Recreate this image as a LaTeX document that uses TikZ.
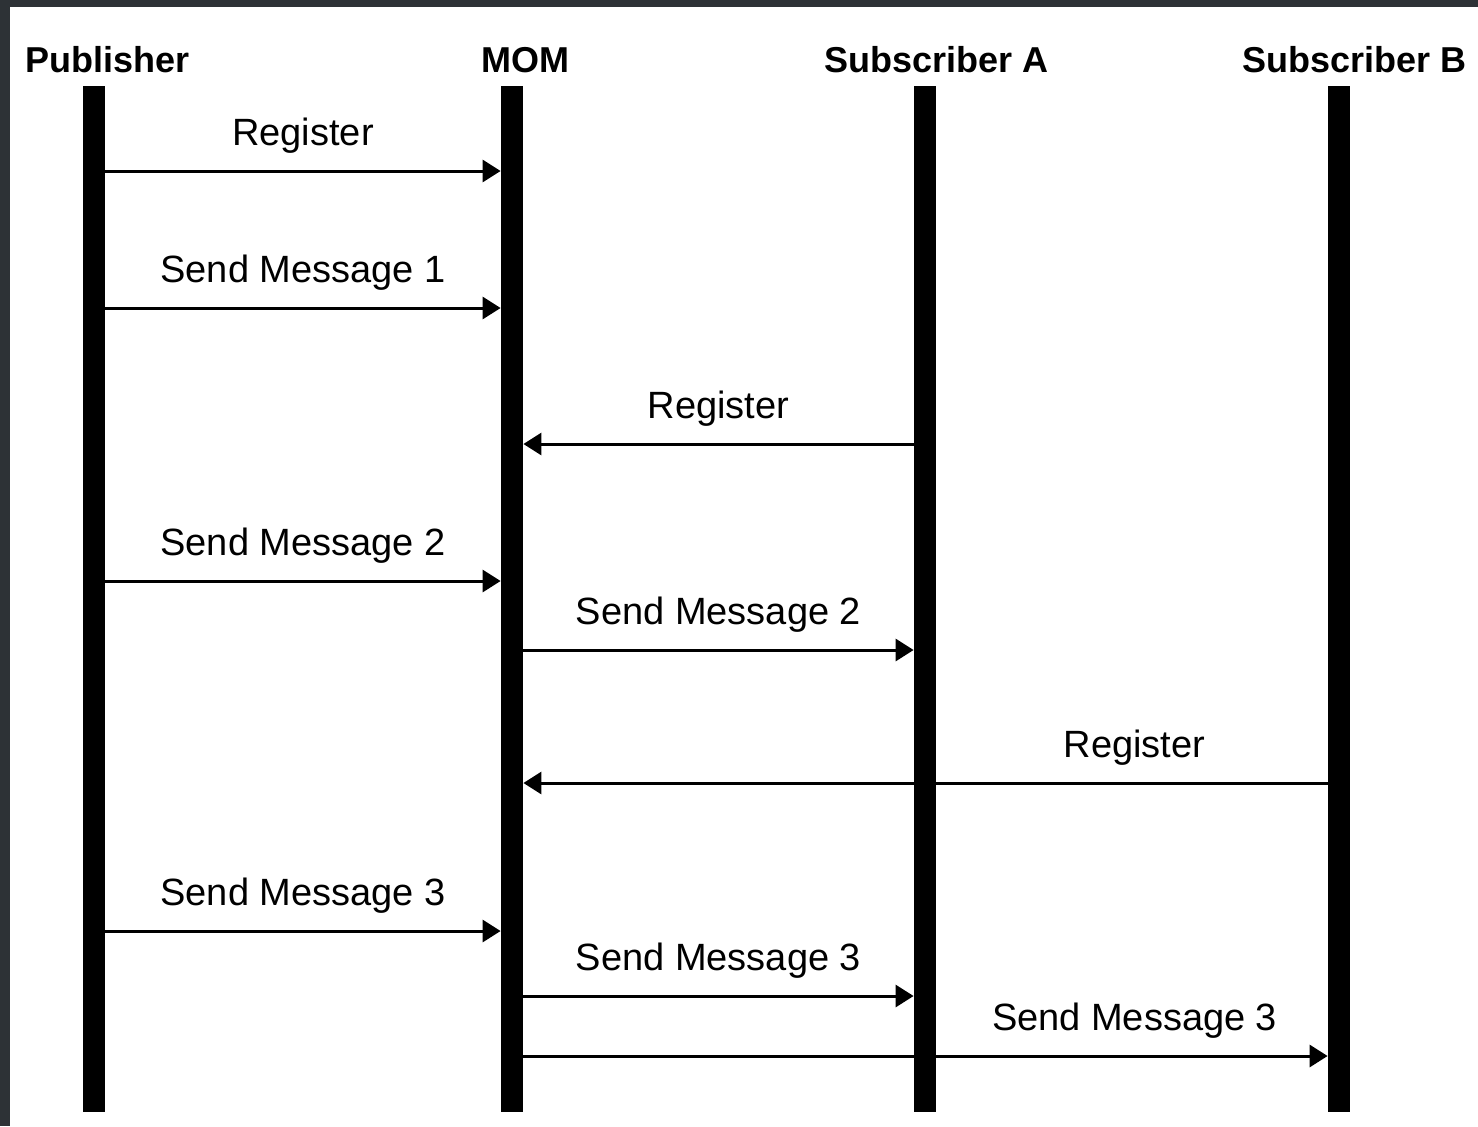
\documentclass[tikz,border=0pt]{standalone}
\usepackage{fontspec}
\setmainfont{Liberation Sans}
\usetikzlibrary{arrows.meta}
\definecolor{framegray}{HTML}{2D3236}

\begin{document}
\begin{tikzpicture}[x=0.5pt, y=-0.5pt,
    lifeline/.style={fill=black, inner sep=0pt, minimum width=11pt, minimum height=513pt},
    actor/.style={font=\fontsize{18}{20}\selectfont\bfseries, anchor=base west, inner sep=0pt},
    msg/.style={line width=1.5pt, -{Triangle[length=9pt,width=11pt]}},
    lbl/.style={font=\fontsize{19}{22}\selectfont, anchor=base, inner sep=0pt, yshift=13pt}
]
    % frame
    \fill[framegray] (0,0) rectangle (1478,1126);
    \fill[white] (10,7) rectangle (1478,1126);

    % actors
    \node[actor] (pubname) at (25,72) {Publisher};
    \node[actor] (momname) at (481,72) {MOM};
    \node[actor] (subaname) at (824,72) {Subscriber A};
    \node[actor] (subbname) at (1242,72) {Subscriber B};

    % lifelines
    \node[lifeline] (pub) at (94,599) {};
    \node[lifeline] (mom) at (512,599) {};
    \node[lifeline] (suba) at (925,599) {};
    \node[lifeline] (subb) at (1339,599) {};

    % messages
    \draw[msg] (pub.east |- 0,171) -- node[lbl] {Register} (mom.west |- 0,171);
    \draw[msg] (pub.east |- 0,308) -- node[lbl] {Send Message 1} (mom.west |- 0,308);
    \draw[msg] (suba.west |- 0,444) -- node[lbl] {Register} (mom.east |- 0,444);
    \draw[msg] (pub.east |- 0,581) -- node[lbl] {Send Message 2} (mom.west |- 0,581);
    \draw[msg] (mom.east |- 0,650) -- node[lbl] {Send Message 2} (suba.west |- 0,650);
    \draw[msg] (subb.west |- 0,783) -- node[lbl, pos=0.24] {Register} (mom.east |- 0,783);
    \draw[msg] (pub.east |- 0,931) -- node[lbl] {Send Message 3} (mom.west |- 0,931);
    \draw[msg] (mom.east |- 0,996) -- node[lbl] {Send Message 3} (suba.west |- 0,996);
    \draw[msg] (mom.east |- 0,1056) -- node[lbl, pos=0.76] {Send Message 3} (subb.west |- 0,1056);
\end{tikzpicture}
\end{document}
